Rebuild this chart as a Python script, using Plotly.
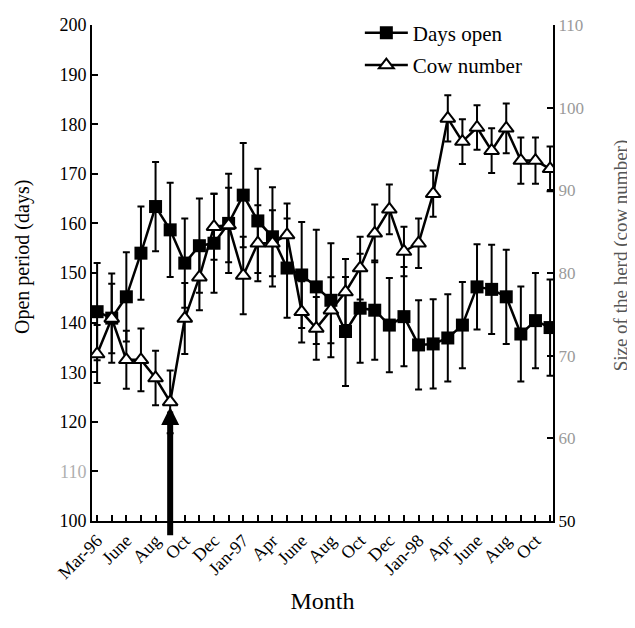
import plotly.graph_objects as go

months = list(range(32))
tick_idx = list(range(0, 32, 2))
tick_labels = ["Mar-96", "June", "Aug", "Oct", "Dec", "Jan-97", "Apr", "June",
               "Aug", "Oct", "Dec", "Jan-98", "Apr", "June", "Aug", "Oct"]

days_open = [142.2, 140.9, 145.2, 154.0, 163.4, 158.7, 152.0, 155.5,
             156.0, 160.0, 165.7, 160.5, 157.3, 151.0, 149.6, 147.2,
             144.5, 138.2, 142.9, 142.5, 139.5, 141.2, 135.5, 135.7,
             136.9, 139.5, 147.2, 146.7, 145.2, 137.7, 140.4, 139.0]
days_err = [9.8, 9.0, 9.0, 9.4, 9.0, 9.5, 9.0, 9.5,
            10.0, 10.0, 10.5, 10.5, 10.0, 10.0, 10.7, 11.5,
            11.5, 11.0, 11.0, 10.0, 9.5, 10.0, 9.0, 9.0,
            8.8, 8.7, 8.6, 9.0, 9.5, 9.6, 9.6, 9.7]

cow_number = [70.2, 74.5, 69.5, 69.5, 67.3, 64.4, 74.5, 79.5,
              85.6, 85.8, 79.7, 83.6, 83.6, 84.6, 75.3, 73.3,
              75.5, 77.7, 80.6, 84.8, 87.7, 82.6, 83.6, 89.6,
              98.7, 95.9, 97.6, 94.8, 97.5, 93.6, 93.6, 92.6]
cow_err = [3.5, 4.2, 3.5, 3.8, 3.3, 3.8, 4.3, 4.0,
           4.0, 4.5, 4.7, 4.6, 4.0, 3.8, 3.7, 3.8,
           4.0, 4.0, 3.8, 3.5, 3.0, 3.0, 3.0, 2.8,
           2.8, 2.7, 2.7, 2.7, 3.0, 2.8, 2.8, 2.7]

arrow_month = 5
arrow_tip = 123.0
arrow_tail = 96.8

FONT = "Liberation Serif"

fig = go.Figure()
fig.add_trace(go.Scatter(
    x=months, y=days_open, name="Days open", mode="lines+markers",
    legendgroup="a",
    line=dict(color="black", width=2.5),
    marker=dict(symbol="square", size=13, color="black"),
    error_y=dict(type="data", array=days_err, color="black", thickness=2, width=3.5),
))
fig.add_trace(go.Scatter(
    x=months, y=cow_number, name="Cow number", mode="lines+markers", yaxis="y2",
    legendgroup="b",
    line=dict(color="black", width=2.5),
    marker=dict(symbol="triangle-up", size=13, color="white",
                line=dict(color="black", width=2)),
    error_y=dict(type="data", array=cow_err, color="black", thickness=2, width=3.5),
))

fig.add_annotation(
    x=arrow_month, y=arrow_tip, xref="x", yref="y",
    ax=arrow_month, ay=arrow_tail, axref="x", ayref="y",
    showarrow=True, arrowhead=2, arrowsize=0.6, arrowwidth=6, arrowcolor="black",
    text="",
)
fig.add_annotation(
    text="Open period (days)", textangle=-90, showarrow=False,
    xref="paper", yref="paper", x=-0.152, y=0.532, xanchor="center", yanchor="middle",
    font=dict(size=20, family=FONT, color="black"),
)
fig.add_annotation(
    text="Size of the herd (cow number)", textangle=-90, showarrow=False,
    xref="paper", yref="paper", x=1.148, y=0.536, xanchor="center", yanchor="middle",
    font=dict(size=19, family=FONT, color="#555555"),
)

fig.update_layout(
    width=627, height=620,
    margin=dict(l=84, r=82, t=17, b=107, autoexpand=False),
    paper_bgcolor="white", plot_bgcolor="white",
    font=dict(family=FONT, color="black", size=18),
    showlegend=True,
    legend=dict(x=0.581, y=1.025, xanchor="left", yanchor="top",
                bgcolor="rgba(0,0,0,0)", font=dict(size=21, family=FONT),
                itemwidth=43, tracegroupgap=2),
    xaxis=dict(
        range=[-0.35, 31.2], tickmode="array", tickvals=tick_idx, ticktext=tick_labels,
        tickangle=-45, showgrid=False, zeroline=False, showline=True,
        linecolor="black", linewidth=2, ticks="inside", ticklen=6, tickwidth=2,
        tickcolor="black", tickfont=dict(size=18), automargin=False,
        minor=dict(tickvals=months, ticks="inside", ticklen=6, tickwidth=2, tickcolor="black"),
        title=dict(text="Month", font=dict(size=24), standoff=10),
    ),
    yaxis=dict(
        range=[100, 200], tickmode="array",
        tickvals=list(range(100, 201, 10)),
        ticktext=["100", "<span style='color:#b0b0b0'>110</span>"] + [str(v) for v in range(120, 201, 10)],
        showgrid=False, zeroline=False, showline=True, linecolor="black", linewidth=2,
        ticks="inside", ticklen=6, tickwidth=2, tickcolor="black",
        tickfont=dict(size=18), automargin=False,
    ),
    yaxis2=dict(
        range=[50, 110], overlaying="y", side="right", tickmode="array",
        tickvals=list(range(50, 111, 10)),
        ticktext=["50"] + ["<span style='color:#9a9a9a'>%d</span>" % v for v in range(60, 111, 10)],
        showgrid=False, zeroline=False, showline=True, linecolor="black", linewidth=2,
        ticks="inside", ticklen=6, tickwidth=2, tickcolor="black",
        tickfont=dict(size=17), automargin=False,
    ),
)

fig.write_html("out.html")
